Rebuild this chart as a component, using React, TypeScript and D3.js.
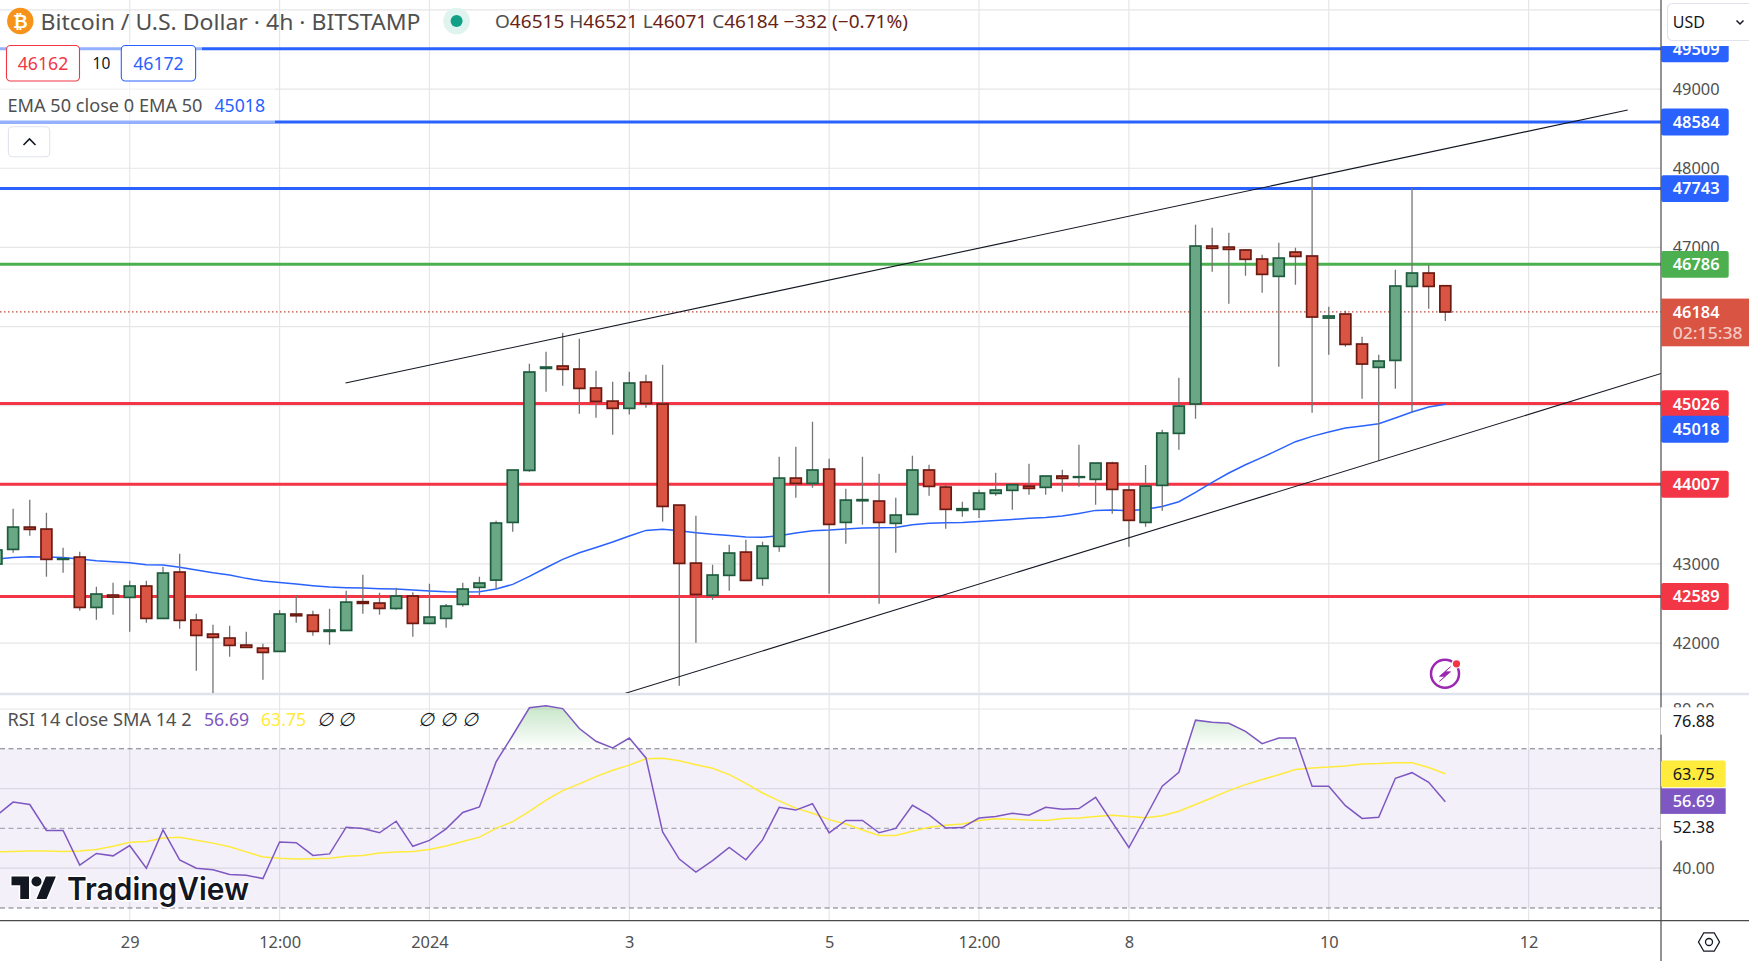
import React, { useEffect, useRef } from "react";
import * as d3 from "d3";

// bars are 4h, index 0 is the first (partly hidden) candle on the left
const opens = [
  42999, 43184, 43466, 43441, 43058, 43087, 42451, 42607, 42578, 42721,
  42312, 42898, 42291, 42114, 42064, 41975, 41937, 41895, 42367, 42354,
  42148, 42160, 42523, 42506, 42438, 42594, 42249, 42312, 42489, 42704,
  42796, 43525, 44182, 45471, 45501, 45463, 45223, 45058, 44966, 45298,
  45020, 43744, 43011, 42603, 42856, 43150, 42818, 43222, 44085, 44018,
  44199, 43525, 43799, 43795, 43513, 43626, 44187, 43972, 43677, 43690,
  43892, 43930, 43984, 43968, 44111, 44094, 44069, 44275, 43934, 43525,
  43993, 44650, 45021, 47017, 47004, 46967, 46853, 46634, 46941, 46891,
  46107, 46158, 45779, 45484, 45572, 46507, 46676, 46515,
];
const highs = [
  43209, 43698, 43812, 43647, 43205, 43155, 42712, 42763, 42788, 42788,
  42965, 43129, 42371, 42232, 42219, 42144, 41992, 42417, 42599, 42409,
  42434, 42662, 42864, 42636, 42700, 42641, 42750, 42493, 42763, 42839,
  43546, 44187, 45530, 45682, 45922, 45846, 45442, 45303, 45429, 45391,
  45517, 43744, 43609, 42990, 43243, 43306, 43281, 44355, 44481, 44797,
  44330, 43951, 44355, 44140, 43837, 44368, 44254, 44001, 43786, 43938,
  44153, 44010, 44267, 44111, 44191, 44507, 44275, 44292, 43993, 44250,
  44696, 45353, 47287, 47249, 47186, 46979, 46908, 47059, 46996, 47885,
  46250, 46200, 45871, 45644, 46718, 47750, 46777, 46521,
];
const lows = [
  42978, 43142, 43357, 42839, 42889, 42409, 42295, 42359, 42144, 42257,
  42312, 42182, 41651, 41364, 41828, 41946, 41537, 41895, 42257, 42093,
  41979, 42160, 42371, 42359, 42422, 42080, 42249, 42194, 42460, 42599,
  42683, 43407, 44165, 45176, 45252, 44898, 44848, 44633, 44890, 44974,
  43534, 41461, 42005, 42548, 42662, 42792, 42725, 43155, 43837, 43963,
  42624, 43256, 43496, 42498, 43142, 43626, 43862, 43445, 43597, 43580,
  43862, 43685, 43875, 43875, 43913, 43976, 43748, 43635, 43218, 43470,
  43673, 44443, 44835, 46693, 46288, 46642, 46427, 45492, 46528, 44911,
  45644, 45745, 45088, 44305, 45214, 44915, 46225, 46071,
];
const closes = [
  43176, 43466, 43437, 43058, 43066, 42451, 42620, 42582, 42721, 42312,
  42885, 42287, 42097, 42072, 41971, 41946, 41882, 42367, 42346, 42148,
  42165, 42518, 42502, 42438, 42594, 42249, 42329, 42468, 42683, 42759,
  43517, 44187, 45425, 45488, 45459, 45218, 45054, 44966, 45286, 45029,
  43727, 43007, 42615, 42860, 43138, 42792, 43226, 44085, 44018, 44187,
  43500, 43807, 43812, 43525, 43618, 44187, 43980, 43690, 43698, 43896,
  43934, 44001, 43955, 44111, 44081, 44102, 44275, 43942, 43551, 43984,
  44654, 44995, 47017, 46988, 46975, 46849, 46659, 46865, 46886, 46120,
  46133, 45774, 45526, 45564, 46512, 46676, 46507, 46184,
];
const ema50 = [
  43062, 43083, 43091, 43087, 43083, 43062, 43041, 43028, 43016, 42990,
  42986, 42957, 42923, 42889, 42860, 42818, 42784, 42767, 42746, 42725,
  42708, 42700, 42695, 42687, 42683, 42670, 42658, 42649, 42645, 42649,
  42683, 42742, 42843, 42952, 43058, 43142, 43209, 43277, 43353, 43424,
  43437, 43420, 43395, 43374, 43361, 43340, 43336, 43357, 43390, 43420,
  43428, 43441, 43454, 43458, 43462, 43496, 43513, 43521, 43525, 43538,
  43550, 43563, 43576, 43588, 43605, 43639, 43677, 43681, 43673, 43690,
  43727, 43786, 43904, 44031, 44149, 44254, 44347, 44444, 44545, 44612,
  44667, 44717, 44743, 44772, 44844, 44919, 44983, 45018,
];
const rsi = [
  53.2, 56.6, 56.0, 49.5, 49.5, 40.8, 43.7, 43.1, 45.7, 40.0,
  49.6, 42.1, 40.0, 39.6, 38.4, 38.2, 37.4, 46.6, 46.4, 43.2,
  43.6, 50.3, 50.0, 48.9, 51.8, 45.5, 47.0, 49.9, 54.0, 55.4,
  66.7, 73.4, 80.3, 80.8, 80.1, 75.1, 71.9, 70.2, 72.7, 67.7,
  49.1, 42.3, 39.0, 41.9, 45.2, 42.1, 47.1, 55.3, 54.6, 56.2,
  48.9, 52.0, 52.0, 48.9, 50.0, 55.8, 53.4, 50.1, 50.2, 52.6,
  53.0, 53.8, 53.3, 55.3, 54.8, 55.0, 57.8, 51.5, 45.2, 52.8,
  60.6, 64.1, 77.2, 76.7, 76.4, 74.4, 71.3, 72.7, 72.7, 60.6,
  60.6, 55.7, 52.5, 52.8, 62.6, 64.0, 61.6, 56.69,
];
const rsiMa = [
  44.1, 44.2, 44.3, 44.3, 44.2, 44.3, 44.7, 45.5, 46.5, 46.7,
  47.6, 47.8, 47.0, 46.3, 45.4, 44.1, 42.8, 42.5, 42.3, 42.4,
  42.5, 43.0, 43.2, 43.8, 44.1, 44.2, 44.7, 45.6, 46.7, 47.8,
  50.0, 51.7, 54.3, 57.1, 59.5, 61.2, 63.0, 64.6, 65.9, 67.5,
  67.6, 67.0, 66.0, 65.1, 63.5, 61.3, 58.9, 56.9, 55.1, 53.8,
  52.2, 51.1, 49.6, 48.2, 48.2, 49.3, 50.3, 50.8, 51.1, 52.0,
  52.4, 52.3, 52.1, 52.0, 52.5, 52.6, 53.0, 53.3, 53.0, 52.7,
  53.2, 54.3, 56.0, 57.7, 59.5, 61.0, 62.3, 63.5, 64.8, 65.2,
  65.4, 65.7, 66.2, 66.3, 66.5, 66.5, 65.3, 63.75,
];

const blueLevels = [49509, 48584, 47743];
const greenLevels = [46786];
const redLevels = [45026, 44007, 42589];

const priceTicks = [50000, 49000, 48000, 47000, 46000, 45000, 44000, 43000, 42000];
const priceLabels = [49000, 48000, 47000, 43000, 42000];
const rsiGrid = [80, 60, 40];
const timeIdx = [8, 17, 26, 38, 50, 59, 68, 80, 92];
const timeLabels = ["29", "12:00", "2024", "3", "5", "12:00", "8", "10", "12"];

// [bar index, price]
const upperTrend: [number, number][] = [[20.96, 45286], [97.95, 48736]];
const lowerTrend: [number, number][] = [[37.73, 41364], [99.98, 45408]];

const W = 1749;
const H = 961;
const axisX = 1661;
const paneBottom = 693;
const timeY = 920.7;
const font = "'Noto Sans', sans-serif";
const greyText = "#505050";

const App: React.FC = () => {
  const svgRef = useRef<SVGSVGElement | null>(null);

  useEffect(() => {
    const svg = d3.select(svgRef.current);
    svg.selectAll("*").remove();
    svg.attr("font-family", font);

    const x = d3.scaleLinear().domain([8, 92]).range([129.7, 1528.6]);
    const y = d3.scaleLinear().domain([49000, 42000]).range([89.1, 643.1]);
    const r = d3.scaleLinear().domain([80, 30]).range([709, 908]);

    const defs = svg.append("defs");
    defs.append("clipPath").attr("id", "pane")
      .append("rect").attr("width", axisX).attr("height", paneBottom);
    defs.append("clipPath").attr("id", "axisTop")
      .append("rect").attr("x", axisX).attr("y", 46).attr("width", 90).attr("height", 40);
    defs.append("clipPath").attr("id", "over70")
      .append("rect").attr("width", axisX).attr("y", 695).attr("height", r(70) - 695);
    const grad = defs.append("linearGradient").attr("id", "obFill")
      .attr("gradientUnits", "userSpaceOnUse")
      .attr("x1", 0).attr("x2", 0).attr("y1", r(81)).attr("y2", r(70));
    grad.append("stop").attr("offset", 0).attr("stop-color", "#4caf50").attr("stop-opacity", 0.32);
    grad.append("stop").attr("offset", 1).attr("stop-color", "#4caf50").attr("stop-opacity", 0);

    svg.append("rect").attr("width", W).attr("height", H).attr("fill", "#fff");

    // grid
    const grid = svg.append("g").attr("stroke", "#e6e6e8").attr("stroke-width", 1.2);
    grid.selectAll(".v").data(timeIdx).enter().append("line").attr("class", "v")
      .attr("x1", d => x(d)).attr("x2", d => x(d)).attr("y1", 0).attr("y2", timeY);
    grid.selectAll(".h").data(priceTicks).enter().append("line").attr("class", "h")
      .attr("x1", 0).attr("x2", axisX).attr("y1", d => y(d)).attr("y2", d => y(d));
    grid.selectAll(".r").data(rsiGrid).enter().append("line").attr("class", "r")
      .attr("x1", 0).attr("x2", axisX).attr("y1", d => r(d)).attr("y2", d => r(d));

    // separator between the panes
    svg.append("line").attr("x1", 0).attr("x2", W).attr("y1", 694).attr("y2", 694)
      .attr("stroke", "#e0e3eb").attr("stroke-width", 2.4);

    // last price dotted line
    svg.append("line").attr("x1", 0).attr("x2", axisX)
      .attr("y1", y(46184)).attr("y2", y(46184))
      .attr("stroke", "#b5483a").attr("stroke-width", 1.2).attr("stroke-dasharray", "1.5 2.5");

    const pane = svg.append("g").attr("clip-path", "url(#pane)");

    const levels = [
      ...blueLevels.map(v => ({ v, c: "#2962ff" })),
      ...greenLevels.map(v => ({ v, c: "#4caf50" })),
      ...redLevels.map(v => ({ v, c: "#f23645" })),
    ];
    pane.selectAll(".level").data(levels).enter().append("line").attr("class", "level")
      .attr("x1", 0).attr("x2", axisX)
      .attr("y1", d => y(d.v)).attr("y2", d => y(d.v))
      .attr("stroke", d => d.c).attr("stroke-width", 3);

    const emaLine = d3.line<number>().x((_, i) => x(i)).y(d => y(d));
    pane.append("path").attr("d", emaLine(ema50)).attr("fill", "none")
      .attr("stroke", "#2962ff").attr("stroke-width", 1.5);

    // candles
    const candles = pane.selectAll(".candle").data(opens).enter().append("g").attr("class", "candle");
    candles.append("line")
      .attr("x1", (_, i) => x(i)).attr("x2", (_, i) => x(i))
      .attr("y1", (_, i) => y(highs[i])).attr("y2", (_, i) => y(lows[i]))
      .attr("stroke", "#757575").attr("stroke-width", 1.3);
    candles.append("rect")
      .attr("x", (_, i) => x(i) - 5.45).attr("width", 10.9)
      .attr("y", (o, i) => y(Math.max(o, closes[i])))
      .attr("height", (o, i) => Math.abs(y(o) - y(closes[i])))
      .attr("fill", (o, i) => (closes[i] >= o ? "#6aa784" : "#d95442"))
      .attr("stroke", (o, i) => (closes[i] >= o ? "#1e5b3e" : "#6b1a12"))
      .attr("stroke-width", 1.7);

    // trend lines
    const trend = d3.line<[number, number]>().x(d => x(d[0])).y(d => y(d[1]));
    [upperTrend, lowerTrend].forEach(t => {
      pane.append("path").attr("d", trend(t)).attr("fill", "none")
        .attr("stroke", "#131722").attr("stroke-width", 1.1);
    });

    // lightning badge
    const badge = svg.append("g").attr("transform", "translate(1445,673.8)");
    badge.append("circle").attr("r", 14).attr("fill", "none")
      .attr("stroke", "#9c27b0").attr("stroke-width", 2.5);
    badge.append("path").attr("d", "M5.5 -7 L-5.5 2.5 L0 2.5 L-5.5 7.5 L5.5 -2 L0 -2 Z").attr("fill", "#9c27b0")
      .attr("stroke", "#9c27b0").attr("stroke-width", 0.8);
    badge.append("circle").attr("cx", 11.5).attr("cy", -10).attr("r", 5).attr("fill", "#fff");
    badge.append("circle").attr("cx", 11.5).attr("cy", -10).attr("r", 3.6).attr("fill", "#f23645");

    // RSI pane
    svg.append("rect").attr("x", 0).attr("width", axisX)
      .attr("y", r(70)).attr("height", r(30) - r(70))
      .attr("fill", "#7e57c2").attr("fill-opacity", 0.09);
    [70, 50, 30].forEach(v => {
      svg.append("line").attr("x1", 0).attr("x2", axisX).attr("y1", r(v)).attr("y2", r(v))
        .attr("stroke", "#787b86").attr("stroke-width", 1.1)
        .attr("stroke-opacity", v === 50 ? 0.6 : 1)
        .attr("stroke-dasharray", "5 3.5");
    });
    const obArea = d3.area<number>().x((_, i) => x(i)).y0(r(70)).y1(d => r(d));
    svg.append("path").attr("d", obArea(rsi)).attr("fill", "url(#obFill)")
      .attr("clip-path", "url(#over70)");
    const rsiLine = d3.line<number>().x((_, i) => x(i)).y(d => r(d));
    svg.append("path").attr("d", rsiLine(rsiMa)).attr("fill", "none")
      .attr("stroke", "#ffeb3b").attr("stroke-width", 1.5);
    svg.append("path").attr("d", rsiLine(rsi)).attr("fill", "none")
      .attr("stroke", "#7e57c2").attr("stroke-width", 1.5);

    // TradingView watermark
    const logo = svg.append("g").attr("transform", "translate(11.5,871.5) scale(1.25)");
    logo.append("path").attr("d", "M14 22H7V11H0V4h14v18zM28 22h-8l7.5-18h8L28 22z").attr("fill", "#131722")
      .attr("stroke", "#fff").attr("stroke-width", 2.4).attr("paint-order", "stroke");
    logo.append("circle").attr("cx", 20).attr("cy", 8).attr("r", 4).attr("fill", "#131722")
      .attr("stroke", "#fff").attr("stroke-width", 2.4).attr("paint-order", "stroke");
    svg.append("text").attr("x", 67).attr("y", 900).text("TradingView")
      .attr("font-size", 31).attr("font-weight", 600).attr("font-family", "Inter, 'Noto Sans', sans-serif")
      .attr("textLength", 182).attr("lengthAdjust", "spacingAndGlyphs")
      .attr("fill", "#131722").attr("stroke", "#fff").attr("stroke-width", 3).attr("paint-order", "stroke");

    // axes lines
    svg.append("line").attr("x1", axisX).attr("x2", axisX).attr("y1", 0).attr("y2", H)
      .attr("stroke", "#4a4a4a").attr("stroke-width", 1.2);
    svg.append("line").attr("x1", 0).attr("x2", W).attr("y1", timeY).attr("y2", timeY)
      .attr("stroke", "#4a4a4a").attr("stroke-width", 1.2);

    // price axis
    const priceAxis = svg.append("g").attr("transform", `translate(${axisX},0)`)
      .call(d3.axisRight(y).tickValues(priceLabels).tickSize(0).tickPadding(11.7).tickFormat(d3.format("d")));
    priceAxis.select(".domain").remove();
    priceAxis.attr("font-size", 16.4).attr("font-family", font);
    priceAxis.selectAll("text").attr("fill", greyText);

    // time axis
    const timeAxis = svg.append("g").attr("transform", `translate(0,${timeY})`)
      .call(d3.axisBottom(x).tickValues(timeIdx).tickSize(0).tickPadding(16)
        .tickFormat((_, i) => timeLabels[i]));
    timeAxis.select(".domain").remove();
    timeAxis.attr("font-size", 16.4).attr("font-family", font);
    timeAxis.selectAll("text").attr("fill", greyText);

    // rsi axis
    const rsiAxis = svg.append("g").attr("transform", `translate(${axisX},0)`)
      .call(d3.axisRight(r).tickValues([80, 40]).tickSize(0).tickPadding(11.7).tickFormat(d3.format(".2f")));
    rsiAxis.select(".domain").remove();
    rsiAxis.attr("font-size", 16.4).attr("font-family", font);
    rsiAxis.selectAll("text").attr("fill", greyText);

    const tagText = (g: any, text: string, cy: number, fill: string) =>
      g.append("text").attr("x", 1672.7).attr("y", cy + 5.9).text(text)
        .attr("font-size", 16.4).attr("fill", fill);

    // price tags
    const tags = svg.append("g");
    const tag = (v: number, c: string, cy: number, parent: any = tags) => {
      parent.append("rect").attr("x", axisX).attr("y", cy - 13.4).attr("width", 67.7).attr("height", 26.8)
        .attr("rx", 2.5).attr("fill", c);
      tagText(parent, String(v), cy, "#fff").attr("font-weight", 600);
    };
    const clipped = tags.append("g").attr("clip-path", "url(#axisTop)");
    tag(blueLevels[0], "#2962ff", y(blueLevels[0]), clipped);
    tag(blueLevels[1], "#2962ff", y(blueLevels[1]));
    tag(blueLevels[2], "#2962ff", y(blueLevels[2]));
    tag(greenLevels[0], "#4caf50", y(greenLevels[0]));
    tag(redLevels[0], "#f23645", y(redLevels[0]));
    tag(ema50[ema50.length - 1], "#2962ff", y(ema50[ema50.length - 1]) + 25);
    tag(redLevels[1], "#f23645", y(redLevels[1]));
    tag(redLevels[2], "#f23645", y(redLevels[2]));

    // last price box with countdown
    tags.append("rect").attr("x", axisX).attr("y", 298.6).attr("width", W - axisX).attr("height", 47.7)
      .attr("fill", "#d95442");
    tagText(tags, "46184", 312, "#fff").attr("font-weight", 600);
    tagText(tags, "02:15:38", 333, "rgba(255,255,255,0.7)").attr("font-weight", 500)
      .attr("textLength", 70).attr("lengthAdjust", "spacingAndGlyphs");

    // rsi tags
    const whiteTag = (text: string, y0: number, y1: number) => {
      tags.append("rect").attr("x", axisX - 0.5).attr("y", y0).attr("width", 67).attr("height", y1 - y0).attr("fill", "#fff");
      tagText(tags, text, (y0 + y1) / 2, "#131722");
    };
    whiteTag("76.88", 707.3, 734.6);
    tags.append("rect").attr("x", axisX).attr("y", 760.6).attr("width", 64.7).attr("height", 26.7)
      .attr("rx", 2).attr("fill", "#ffeb3b");
    tagText(tags, "63.75", 774, "#131722");
    tags.append("rect").attr("x", axisX).attr("y", 788.3).attr("width", 64.7).attr("height", 25.6)
      .attr("fill", "#7e57c2");
    tagText(tags, "56.69", 801.2, "#fff").attr("font-weight", 500);
    whiteTag("52.38", 814, 840.6);

    // legend rows wash out what is behind them
    const wash = svg.append("g").attr("fill", "#fff").attr("fill-opacity", 0.5);
    wash.append("rect").attr("y", 42).attr("width", 202).attr("height", 42);
    wash.append("rect").attr("y", 85).attr("width", 275).attr("height", 38);

    // symbol row
    svg.append("circle").attr("cx", 20.3).attr("cy", 21).attr("r", 13.2).attr("fill", "#f7931a");
    svg.append("text").attr("x", 20.3).attr("y", 27.5).attr("text-anchor", "middle").text("₿")
      .attr("font-size", 18).attr("font-weight", 700).attr("font-family", "'DejaVu Sans', sans-serif").attr("fill", "#fff");
    svg.append("text").attr("x", 40.5).attr("y", 29.5).text("Bitcoin / U.S. Dollar · 4h · BITSTAMP")
      .attr("font-size", 22).attr("fill", greyText)
      .attr("textLength", 380).attr("lengthAdjust", "spacingAndGlyphs");
    svg.append("circle").attr("cx", 456.6).attr("cy", 21).attr("r", 13.3).attr("fill", "#dff3ef");
    svg.append("circle").attr("cx", 456.6).attr("cy", 21).attr("r", 6).attr("fill", "#11a086");

    const ohlc = svg.append("text").attr("x", 495).attr("y", 28).attr("font-size", 17.8)
      .attr("textLength", 413).attr("lengthAdjust", "spacingAndGlyphs");
    const last = opens.length - 1;
    const ohlcDark = "#6b1f16";
    const seg = (t: string, c: string) => ohlc.append("tspan").attr("fill", c).text(t);
    seg("O", greyText); seg(`${opens[last]}  `, ohlcDark);
    seg("H", greyText); seg(`${highs[last]}  `, ohlcDark);
    seg("L", greyText); seg(`${lows[last]}  `, ohlcDark);
    seg("C", greyText); seg(`${closes[last]}  `, ohlcDark);
    seg("−332 (−0.71%)", ohlcDark);

    // buy / sell boxes
    const box = (bx: number, bw: number, c: string, t: string) => {
      svg.append("rect").attr("x", bx).attr("y", 45.5).attr("width", bw).attr("height", 35.5)
        .attr("rx", 4).attr("fill", "#fff").attr("stroke", c).attr("stroke-width", 1.1);
      svg.append("text").attr("x", bx + bw / 2).attr("y", 69.6).attr("text-anchor", "middle").text(t)
        .attr("font-size", 17.7).attr("fill", c);
    };
    box(6.5, 73, "#f23645", "46162");
    box(121.3, 74.3, "#2962ff", "46172");
    svg.append("text").attr("x", 101.4).attr("y", 69.4).attr("text-anchor", "middle").text("10")
      .attr("font-size", 15.5).attr("fill", "#131722");

    // EMA legend
    svg.append("text").attr("x", 7.5).attr("y", 111.6).text("EMA 50 close 0 EMA 50")
      .attr("font-size", 18).attr("fill", greyText)
      .attr("textLength", 195).attr("lengthAdjust", "spacingAndGlyphs");
    svg.append("text").attr("x", 214.5).attr("y", 111.6).text(String(ema50[ema50.length - 1]))
      .attr("font-size", 17.7).attr("fill", "#2962ff");

    // collapse button
    svg.append("rect").attr("x", 8.4).attr("y", 126.7).attr("width", 41.3).attr("height", 30)
      .attr("rx", 4).attr("fill", "#fff").attr("stroke", "#e0e3eb").attr("stroke-width", 1.1);
    svg.append("path").attr("d", "M23.5 145 L29.5 139 L35.5 145").attr("fill", "none")
      .attr("stroke", "#131722").attr("stroke-width", 1.6);

    // RSI legend
    svg.append("text").attr("x", 7.5).attr("y", 725.6).text("RSI 14 close SMA 14 2")
      .attr("font-size", 18).attr("fill", greyText)
      .attr("textLength", 184).attr("lengthAdjust", "spacingAndGlyphs");
    svg.append("text").attr("x", 204).attr("y", 725.6).text("56.69").attr("font-size", 17.7).attr("fill", "#7e57c2");
    svg.append("text").attr("x", 261).attr("y", 725.6).text("63.75").attr("font-size", 17.7).attr("fill", "#ffeb3b");
    [324.5, 346, 425.6, 447.8, 469.6].forEach(px => {
      svg.append("text").attr("x", px).attr("y", 725.6).attr("text-anchor", "middle").text("∅")
        .attr("font-size", 18.5).attr("font-style", "italic").attr("fill", "#131722");
    });

    // currency selector
    svg.append("rect").attr("x", 1667.5).attr("y", 3.5).attr("width", 90).attr("height", 37)
      .attr("rx", 5).attr("fill", "#fff").attr("stroke", "#e0e3eb").attr("stroke-width", 1.1);
    svg.append("text").attr("x", 1672.7).attr("y", 28).text("USD").attr("font-size", 16).attr("fill", "#131722");
    svg.append("path").attr("d", "M1736.5 20.5 L1740 24 L1743.5 20.5").attr("fill", "none")
      .attr("stroke", "#131722").attr("stroke-width", 1.5);

    // settings icon
    svg.append("path").attr("d", "M1698.5 942 L1703.8 932.8 L1714.2 932.8 L1719.5 942 L1714.2 951.2 L1703.8 951.2 Z")
      .attr("fill", "none").attr("stroke", "#131722").attr("stroke-width", 1.3);
    svg.append("circle").attr("cx", 1709).attr("cy", 942).attr("r", 3.5).attr("fill", "none")
      .attr("stroke", "#131722").attr("stroke-width", 1.3);
  }, []);

  return (
    <div style={{ position: "fixed", left: 0, top: 0, width: W, height: H, overflow: "hidden" }}>
      <svg ref={svgRef} width={W} height={H} style={{ display: "block" }}></svg>
    </div>
  );
};

export default App;
